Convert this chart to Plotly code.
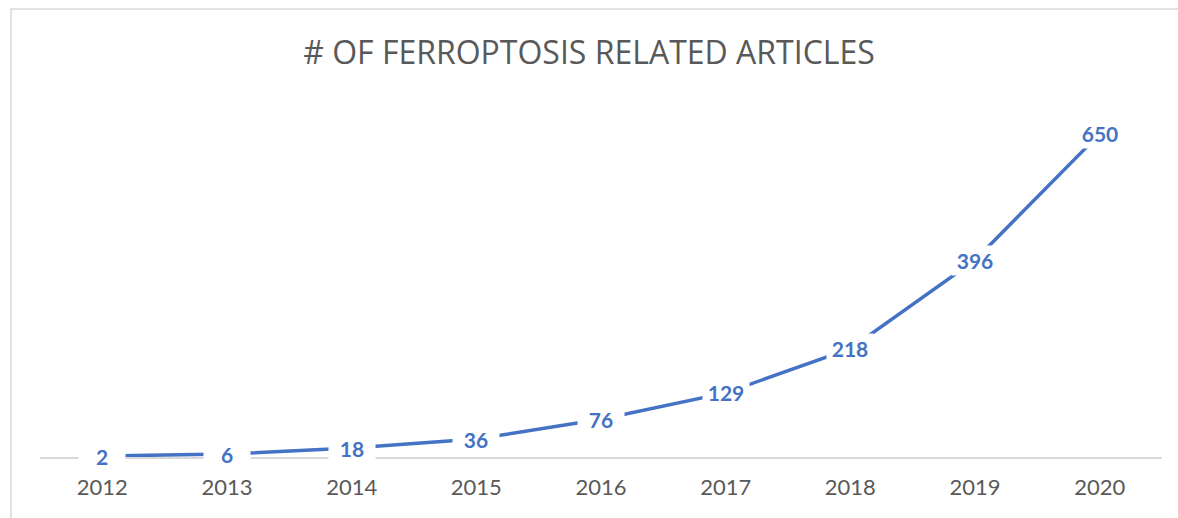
import plotly.graph_objects as go

years = ["2012", "2013", "2014", "2015", "2016", "2017", "2018", "2019", "2020"]
articles = [2, 6, 18, 36, 76, 129, 218, 396, 650]
title_text = "# OF FERROPTOSIS RELATED ARTICLES"

BLUE = "#4472C4"
GRAY_TXT = "#595959"
GRID = "#d9d9d9"

W, H = 1178, 518
ML, MR, MT, MB = 40, 16, 109, 61
pw = W - ML - MR
ph = H - MT - MB

fig = go.Figure()
fig.add_trace(go.Scatter(
    x=years, y=articles, mode="lines",
    line=dict(color=BLUE, width=3.5),
    cliponaxis=False, hoverinfo="skip", showlegend=False,
))

# data labels (category axis: position by category index)
annotations = []
for i, v in enumerate(articles):
    annotations.append(dict(
        x=i, y=v, xref="x", yref="y", text="<b>" + str(v) + "</b>",
        showarrow=False, bgcolor="white", borderpad=2, width=42,
        font=dict(family="Lato, Open Sans, sans-serif", size=21, color=BLUE),
        xanchor="center", yanchor="middle", align="center",
    ))

# chart border
shapes = [dict(
    type="rect", xref="paper", yref="paper",
    x0=(11 - ML) / pw, x1=(W + 5 - ML) / pw,
    y0=-(H + 5 - (H - MB)) / ph, y1=((H - MB) - 9) / ph,
    line=dict(color=GRID, width=1.5), layer="below",
)]

fig.update_layout(
    width=W, height=H,
    margin=dict(l=ML, r=MR, t=MT, b=MB),
    paper_bgcolor="white", plot_bgcolor="white",
    annotations=annotations, shapes=shapes,
    title=dict(text=title_text, x=0.5, xanchor="center", y=1 - 53 / H, yanchor="middle",
               font=dict(family="Open Sans, Lato, sans-serif", size=32, color=GRAY_TXT)),
    xaxis=dict(
        type="category", range=[-0.5, 8.5], showgrid=False, zeroline=False,
        showline=True, linecolor=GRID, linewidth=2, ticks="",
        tickfont=dict(family="Lato, Open Sans, sans-serif", size=22, color=GRAY_TXT),
        ticklabelstandoff=10,
    ),
    yaxis=dict(range=[0, 700], showticklabels=False, showline=False, ticks="",
               showgrid=False, zeroline=False),
)

fig.write_html("out.html", config={"displayModeBar": False},
               post_script="document.body.style.margin='0';document.body.style.padding='0';")
